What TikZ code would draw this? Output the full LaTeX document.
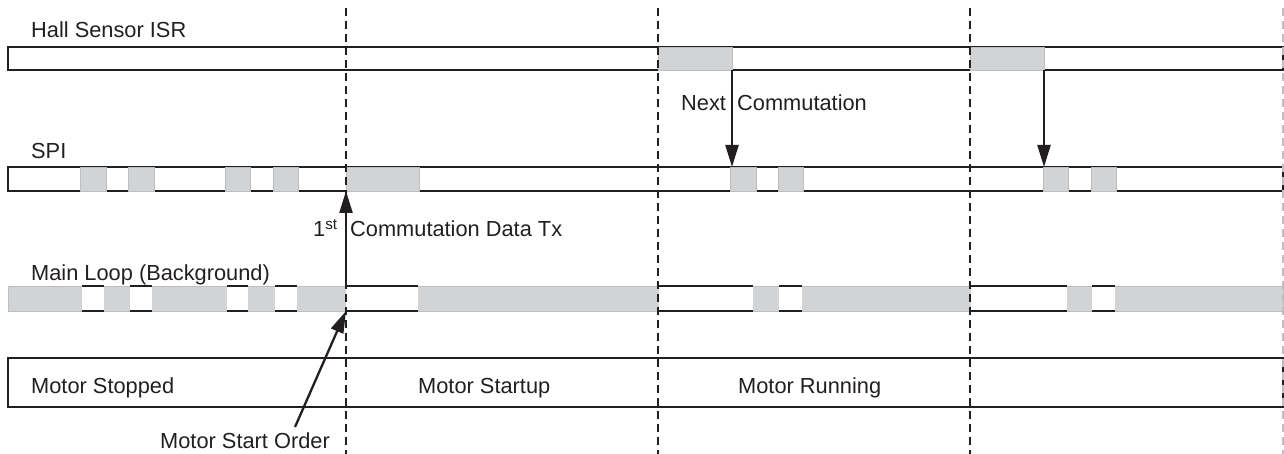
\documentclass[tikz,border=0pt]{standalone}
\usepackage{fontspec}
\setmainfont{Liberation Sans}
\usetikzlibrary{arrows.meta}
\definecolor{ink}{HTML}{231F20}
\definecolor{blk}{HTML}{D1D3D4}
\definecolor{blkedge}{HTML}{BCBEC0}
\tikzset{
  lbl/.style={anchor=base west, inner sep=0pt, text=ink, font=\fontsize{21.8}{24}\selectfont},
  bar/.style={draw=ink, line width=1.9pt, fill=white},
  busy/.style={fill=blk, draw=blkedge, line width=0.9pt},
  edge/.style={draw=ink, line width=1.9pt},
  divider/.style={draw=ink, line width=1.4pt, dash pattern=on 8pt off 5pt},
  evt/.style={draw=ink, line width=2.3pt, -{Triangle[length=22pt,width=13pt]}}
}
\begin{document}
\begin{tikzpicture}[x=1pt,y=-1pt]
\useasboundingbox (0,0) rectangle (1284,454);

% labels
\node[lbl] (lhall) at (31,38) {Hall Sensor ISR};
\node[lbl] (lspi) at (31,159) {SPI};
\node[lbl] (lmain) at (31,280) {Main Loop (Background)};

% Hall sensor ISR bar
\draw[bar] (8,47) rectangle (1283,70);
\draw[busy] (658,47) rectangle (732,70);
\draw[busy] (970,47) rectangle (1044,70);

% SPI bar
\draw[bar] (8,167) rectangle (1283,191);
\foreach \a/\b in {80/106,128/154,225/250,273/298,346/419,730/756,778/803,1043/1068,1091/1116}
  \draw[busy] (\a,167) rectangle (\b,191);

% Main loop bar
\draw[busy] (8,286) rectangle (1283,311);
\foreach \a/\b in {82/104,130/152,227/248,275/297,346/418,659/753,779/802,971/1067,1092/1115}{
  \fill[white] (\a,286.4) rectangle (\b,310.6);
  \draw[edge] (\a,286) -- (\b,286) (\a,311) -- (\b,311);
}

% Motor state bar
\draw[bar] (8,358) rectangle (1283,407);
\node[lbl] (sstop) at (31,393) {Motor Stopped};
\node[lbl] (sstart) at (418,393) {Motor Startup};
\node[lbl] (srun) at (738,393) {Motor Running};

% dividers
\draw[divider] (346,8) -- (346,454);
\draw[divider] (658,8) -- (658,454);
\draw[divider] (970,8) -- (970,454);
\draw[divider, draw=blkedge] (1283,8) -- (1283,454);

% event coordinates
\coordinate (h1) at (732,70);
\coordinate (s1) at (732,167);
\coordinate (h2) at (1044,70);
\coordinate (s2) at (1044,167);
\coordinate (m0) at (346,286);
\coordinate (p0) at (346,191);
\coordinate (ms) at (346,311);

% arrows
\draw[evt] (h1) -- (s1);
\draw[evt] (h2) -- (s2);
\draw[evt] (m0) -- (p0);

\node[lbl] (lnext) at (681,111) {Next};
\node[lbl] (lcomm) at (737,111) {Commutation};
\node[lbl] (lfirst) at (313,237) {1\textsuperscript{st}};
\node[lbl] (ldata) at (350,237) {Commutation Data Tx};

\node[lbl] (lorder) at (160,448) {Motor Start Order};
\coordinate (o0) at (295,427);
\draw[evt] (o0) -- (ms);
\end{tikzpicture}
\end{document}
